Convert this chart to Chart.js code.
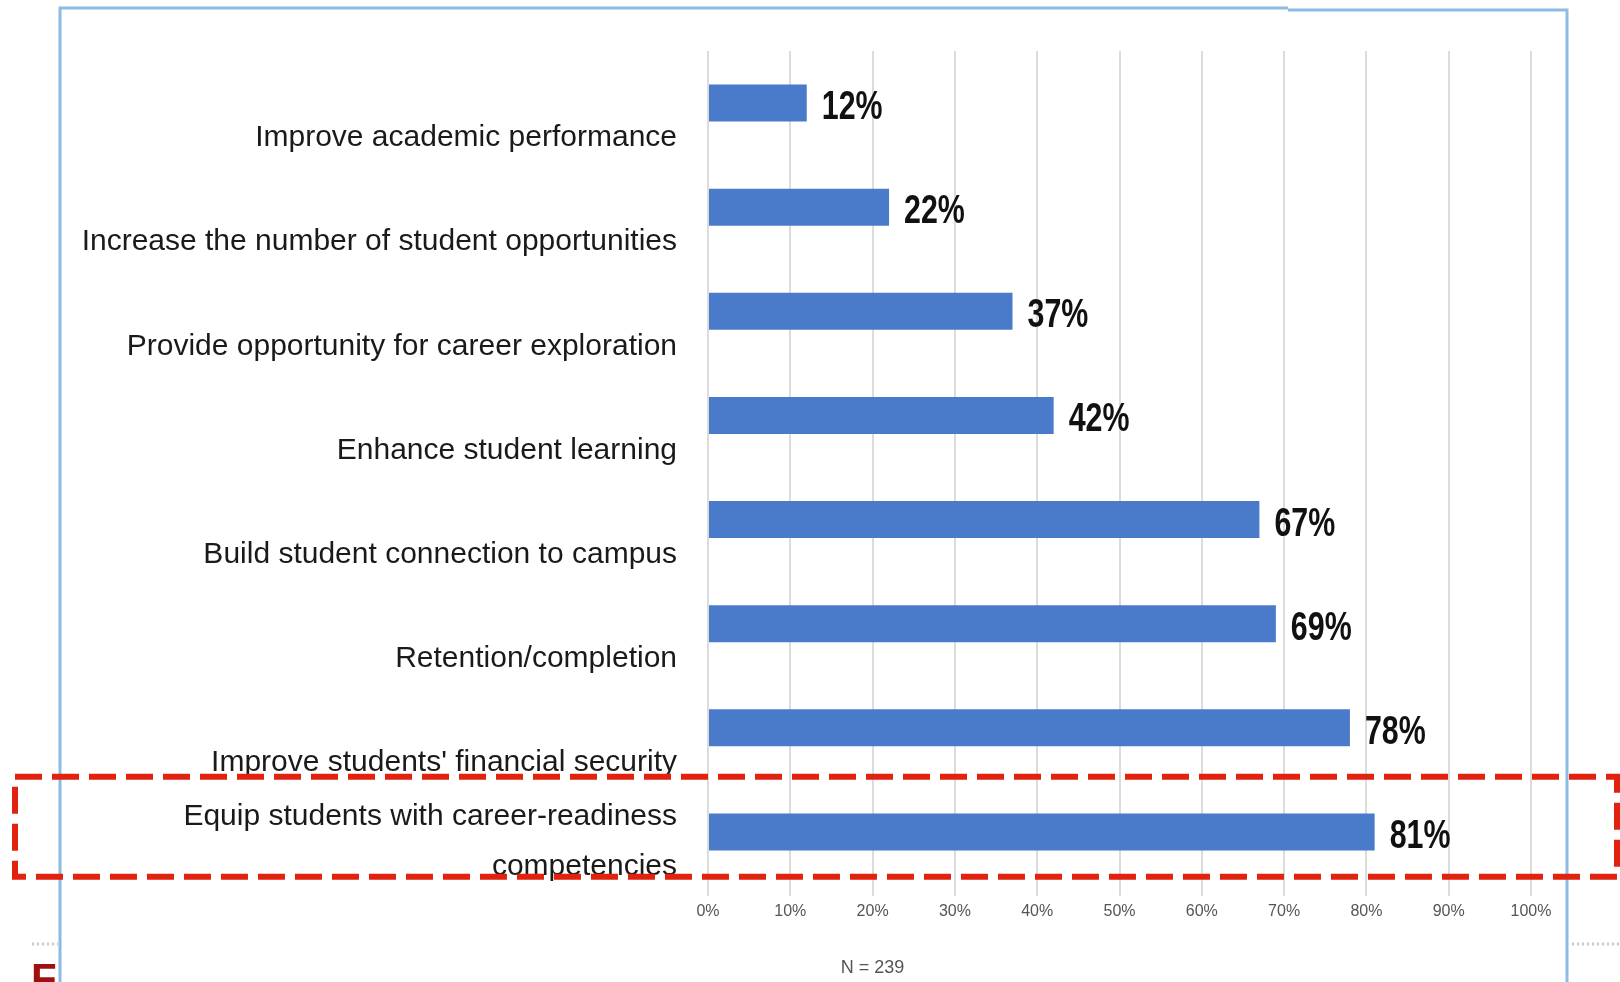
<!DOCTYPE html>
<html>
<head>
<meta charset="utf-8">
<script src="https://cdn.jsdelivr.net/npm/chart.js@4.4.1/dist/chart.umd.min.js"></script>
<style>
  html, body { margin: 0; padding: 0; background: #fff; }
  #wrap { position: relative; width: 1620px; height: 982px; }
</style>
</head>
<body>
<div id="wrap"><canvas id="myChart"></canvas></div>
<script>
// data
const categories = [
    'Improve academic performance',
    'Increase the number of student opportunities',
    'Provide opportunity for career exploration',
    'Enhance student learning',
    'Build student connection to campus',
    'Retention/completion',
    "Improve students' financial security",
    ['Equip students with career-readiness', 'competencies']
];
const values = [12, 22, 37, 42, 67, 69, 78, 81];
const xTicks = [0, 10, 20, 30, 40, 50, 60, 70, 80, 90, 100];
const sampleNote = 'N = 239';
const highlightIndex = 7;

const FONT = "'Liberation Sans', Arial, sans-serif";

var canvas = document.getElementById('myChart');
var ctx = canvas.getContext('2d');

// frame behind the chart
const framePlugin = {
    id: 'frame',
    beforeDraw(chart) {
        const c = chart.ctx;
        c.save();
        c.fillStyle = '#ffffff';
        c.fillRect(0, 0, chart.width, chart.height);
        c.strokeStyle = '#8dbbe3';
        c.lineWidth = 3;
        c.beginPath();
        c.moveTo(60, 982);
        c.lineTo(60, 8);
        c.lineTo(1288, 8);
        c.moveTo(1288, 10);
        c.lineTo(1567, 10);
        c.lineTo(1567, 982);
        c.stroke();
        c.restore();
    }
};

// value labels next to bars (narrowed, like the original condensed font)
const barLabels = {
    id: 'barLabels',
    afterDatasetsDraw(chart) {
        const c = chart.ctx;
        const meta = chart.getDatasetMeta(0);
        c.save();
        c.font = 'bold 40px ' + FONT;
        c.fillStyle = '#111111';
        c.textBaseline = 'middle';
        c.textAlign = 'left';
        meta.data.forEach((bar, i) => {
            c.save();
            c.translate(bar.x + 15, bar.y + 5);
            c.scale(0.76, 1);
            c.fillText(values[i] + '%', 0, 0);
            c.restore();
        });
        c.restore();
    }
};

// red dashed highlight + footnote
const extras = {
    id: 'extras',
    afterDraw(chart) {
        const c = chart.ctx;
        const y = chart.scales.y;
        const x = chart.scales.x;
        const band = (y.bottom - y.top) / categories.length;
        const yc = y.getPixelForValue(highlightIndex);
        c.save();
        c.strokeStyle = '#e0220f';
        c.lineWidth = 6;
        c.setLineDash([27, 10]);
        c.strokeRect(15, yc - band * 0.53, 1602, band * 0.96);
        c.setLineDash([]);

        c.font = '18px ' + FONT;
        c.fillStyle = '#555555';
        c.textAlign = 'center';
        c.textBaseline = 'middle';
        c.fillText(sampleNote, x.getPixelForValue(20), 968);

        // little dotted marks
        c.strokeStyle = '#c8c8c8';
        c.lineWidth = 3;
        c.setLineDash([2, 3]);
        c.beginPath();
        c.moveTo(32, 944); c.lineTo(58, 944);
        c.moveTo(1572, 944); c.lineTo(1620, 944);
        c.stroke();
        c.setLineDash([]);

        c.font = 'bold 42px ' + FONT;
        c.fillStyle = '#a0100f';
        c.textAlign = 'left';
        c.textBaseline = 'top';
        c.fillText('F', 31, 960);
        c.restore();
    }
};

const config = {
    type: 'bar',
    data: {
        labels: categories,
        datasets: [{
            label: 'Valor',
            data: values,
            backgroundColor: '#4a7bca',
            categoryPercentage: 1,
            barPercentage: 0.355
        }]
    },
    options: {
        indexAxis: 'y',
        responsive: true,
        maintainAspectRatio: false,
        animation: false,
        layout: {
            padding: { top: 51, right: 89, left: 0, bottom: 0 }
        },
        scales: {
            x: {
                min: 0,
                max: 100,
                afterBuildTicks: (axis) => {
                    axis.ticks = xTicks.map(v => ({ value: v }));
                },
                afterFit: (axis) => {
                    axis.height = 98;
                    axis.paddingLeft = 0;
                    axis.paddingRight = 0;
                },
                border: { display: false },
                grid: {
                    color: '#dcdcdc',
                    lineWidth: 2,
                    tickLength: 12,
                    drawTicks: true
                },
                ticks: {
                    padding: 6,
                    maxRotation: 0,
                    color: '#555555',
                    font: { family: FONT, size: 16 },
                    callback: (v) => v + '%'
                }
            },
            y: {
                afterFit: (axis) => {
                    axis.width = 708;
                    axis.paddingTop = 0;
                    axis.paddingBottom = 0;
                },
                border: { display: false },
                grid: { display: false, drawTicks: false },
                ticks: {
                    padding: 31,
                    labelOffset: 10,
                    color: '#1a1a1a',
                    font: { family: FONT, size: 30, lineHeight: '50px' },
                    callback: function (value) {
                        // single-line labels sit below their bar, so pad them with an empty first line
                        const lbl = this.getLabelForValue(value);
                        return Array.isArray(lbl) ? lbl : ['', lbl];
                    }
                }
            }
        },
        plugins: {
            legend: false,
            tooltip: { enabled: false }
        }
    },
    plugins: [framePlugin, barLabels, extras]
};

new Chart(ctx, config);
</script>
</body>
</html>
